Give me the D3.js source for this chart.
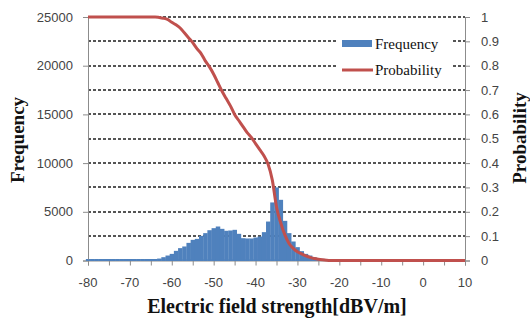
<!DOCTYPE html>
<html><head><meta charset="utf-8">
<script src="https://cdn.jsdelivr.net/npm/d3@7"></script>
<style>body{margin:0;background:#fff}svg{display:block}</style></head>
<body><svg id="c" width="530" height="320"></svg>
<script>
// bin centres (dBV/m)
const binCenters = [-80,-79,-78,-77,-76,-75,-74,-73,-72,-71,-70,-69,-68,-67,-66,
 -65,-64,-63,-62,-61,-60,-59,-58,-57,-56,-55,-54,-53,-52,-51,-50,-49,-48,-47,-46,-45,-44,-43,-42,-41,-40,
 -39,-38,-37,-36,-35,-34,-33,-32,-31,-30,-29,-28,-27,-26,-25,-24,-23,-22,
 -21,-20,-19,-18,-17,-16,-15,-14,-13,-12,-11,-10,-9,-8,-7,-6,-5,-4,-3,-2,-1,0,1,2,3,4,5,6,7,8,9];
const frequency = [0,0,0,0,0,0,0,0,0,0,0,0,0,0,0,
 50,130,200,340,510,680,990,1270,1440,1810,2120,2220,2530,2810,3110,3320,3490,3250,3050,3080,3150,2740,2290,2260,2260,2360,
 2460,2910,4000,5960,7500,6230,4070,2810,1950,1370,960,680,510,340,240,170,100,50,
 0,0,0,0,0,0,0,0,0,0,0,0,0,0,0,0,0,0,0,0,0,0,0,0,0,0,0,0,0,0,0];
const probX = [-80,-79,-78,-77,-76,-75,-74,-73,-72,-71,-70,-69,-68,-67,-66,-65,-64,
 -63,-62,-61,-60,-59,-58,-57,-56,-55,-54,-53,-52,-51,-50,-49,-48,-47,-46,-45,-44,-43,-42,-41,-40,
 -39,-38,-37,-36,-35,-34,-33,-32,-31,-30,-29,-28,-27,-26,-25,-24,-23,-22,
 -21,-20,-19,-18,-17,-16,-15,-14,-13,-12,-11,-10,-9,-8,-7,-6,-5,-4,-3,-2,-1,0,1,2,3,4,5,6,7,8,9,10];
const probability = [1,1,1,1,1,1,1,1,1,1,1,1,1,1,1,1,1,
 0.998,0.995,0.99,0.978,0.968,0.955,0.935,0.915,0.895,0.87,0.85,0.82,0.795,0.765,0.73,0.695,0.665,0.635,0.6,0.575,0.55,0.525,0.505,0.48,
 0.455,0.43,0.395,0.33,0.22,0.155,0.105,0.07,0.05,0.036,0.027,0.019,0.013,0.008,0.005,0.003,0.0015,0.0005,
 0,0,0,0,0,0,0,0,0,0,0,0,0,0,0,0,0,0,0,0,0,0,0,0,0,0,0,0,0,0,0,0];
const xTickLabels = [-80,-70,-60,-50,-40,-30,-20,-10,0,10];
const xMinorTicks = [-80,-75,-70,-65,-60,-55,-50,-45,-40,-35,-30,-25,-20,-15,-10,-5,0,5,10];
const freqTicks = [0,5000,10000,15000,20000,25000];
const probTicks = [0,0.1,0.2,0.3,0.4,0.5,0.6,0.7,0.8,0.9,1];
const gridVals = [0.1,0.2,0.3,0.4,0.5,0.6,0.7,0.8,0.9,1];

const svg = d3.select('#c');
const L = 88, R = 465, T = 17, B = 260.5;
const x = d3.scaleLinear().domain([-80, 10]).range([L, R]);
const yF = d3.scaleLinear().domain([0, 25000]).range([B, T]);
const yP = d3.scaleLinear().domain([0, 1]).range([B, T]);
const axisCol = '#8c8c8c', txtCol = '#444';
const tickFont = '13px "Liberation Sans", Arial, sans-serif';
const serif = '"Liberation Serif", "Times New Roman", serif';

// gridlines
svg.append('g').selectAll('line').data(gridVals).join('line')
  .attr('x1', L).attr('x2', R)
  .attr('y1', d => Math.round(yP(d))).attr('y2', d => Math.round(yP(d)))
  .attr('stroke', '#1e1e1e').attr('stroke-width', 1.5).attr('stroke-dasharray', '3,2');

// bars
const bw = x(1) - x(0);
svg.append('g').selectAll('rect').data(binCenters.map((c, i) => ({c, v: frequency[i]}))).join('rect')
  .attr('x', d => x(d.c) - bw / 2)
  .attr('width', bw + 0.3)
  .attr('y', d => Math.min(yF(d.v), B - 1.5))
  .attr('height', d => Math.max(B - yF(d.v), 1.5))
  .attr('fill', '#4F81BD');

// axes
const gB = svg.append('g').attr('transform', `translate(0,${B})`)
  .call(d3.axisBottom(x).tickValues(xMinorTicks).tickSize(5).tickFormat(''));
const gL = svg.append('g').attr('transform', `translate(${L},0)`)
  .call(d3.axisLeft(yF).tickValues(freqTicks).tickSize(5).tickFormat(''));
const gR = svg.append('g').attr('transform', `translate(${R},0)`)
  .call(d3.axisRight(yP).tickValues(probTicks).tickSize(5).tickFormat(''));
[gB, gL, gR].forEach(g => { g.selectAll('path,line').attr('stroke', axisCol); });

// bars' baseline over bottom axis domain
svg.append('g').selectAll('rect').data(binCenters.map((c, i) => ({c, v: frequency[i]}))).join('rect')
  .attr('x', d => x(d.c) - bw / 2).attr('width', bw + 0.3)
  .attr('y', B - 1).attr('height', 1.5).attr('fill', '#4F81BD');

// tick labels
svg.append('g').selectAll('text').data(xTickLabels).join('text')
  .attr('x', d => x(d)).attr('y', 287).attr('text-anchor', 'middle')
  .style('font', tickFont).attr('fill', txtCol).text(d => d);
svg.append('g').selectAll('text').data(freqTicks).join('text')
  .attr('x', 73).attr('y', d => yF(d) + 4.5).attr('text-anchor', 'end')
  .style('font', tickFont).attr('fill', txtCol).text(d => d);
svg.append('g').selectAll('text').data(probTicks).join('text')
  .attr('x', 481).attr('y', d => yP(d) + 4.5).attr('text-anchor', 'start')
  .style('font', tickFont).attr('fill', txtCol).text(d => d);

// probability line
svg.append('path')
  .datum(probX.map((px, i) => [px, probability[i]]))
  .attr('d', d3.line().x(d => x(d[0])).y(d => yP(d[1])).curve(d3.curveMonotoneX))
  .attr('fill', 'none').attr('stroke', '#C0504D').attr('stroke-width', 3);

// legend
const lg = svg.append('g');
lg.append('rect').attr('x', 336).attr('y', 27).attr('width', 115).attr('height', 54).attr('fill', '#fff');
lg.append('rect').attr('x', 342).attr('y', 40).attr('width', 30).attr('height', 7).attr('fill', '#4F81BD');
lg.append('text').attr('x', 375).attr('y', 48.5).style('font', `15px ${serif}`).attr('fill', '#111').text('Frequency');
lg.append('line').attr('x1', 342).attr('x2', 373).attr('y1', 70).attr('y2', 70)
  .attr('stroke', '#C0504D').attr('stroke-width', 3);
lg.append('text').attr('x', 375).attr('y', 74.5).style('font', `15px ${serif}`).attr('fill', '#111').text('Probability');

// titles
svg.append('text').attr('transform', 'translate(24,140) rotate(-90)').attr('text-anchor', 'middle')
  .style('font', `bold 19px ${serif}`).attr('fill', '#111').text('Frequency');
svg.append('text').attr('transform', 'translate(526,138) rotate(-90)').attr('text-anchor', 'middle')
  .style('font', `bold 19px ${serif}`).attr('fill', '#111').text('Probability');
svg.append('text').attr('x', 277).attr('y', 313).attr('text-anchor', 'middle')
  .style('font', `bold 20px ${serif}`).attr('fill', '#111').text('Electric field strength[dBV/m]');
</script></body></html>
